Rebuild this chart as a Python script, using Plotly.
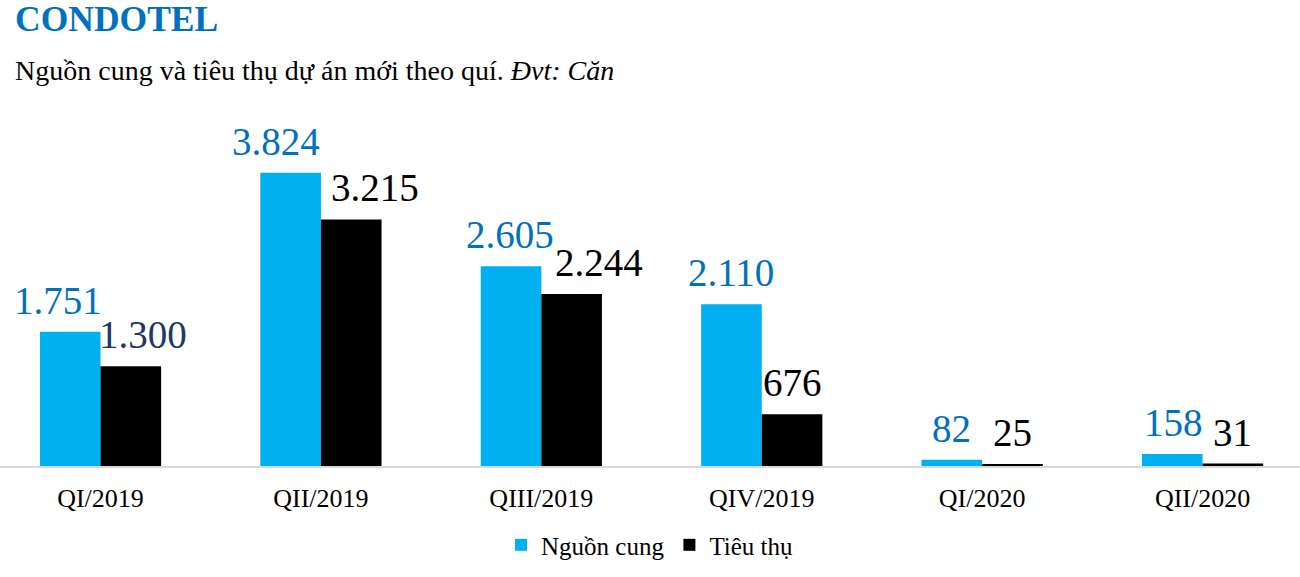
import plotly.graph_objects as go

quarters = ["QI/2019", "QII/2019", "QIII/2019", "QIV/2019", "QI/2020", "QII/2020"]
supply = [1751, 3824, 2605, 2110, 82, 158]
sold = [1300, 3215, 2244, 676, 25, 31]
supply_labels = ["1.751", "3.824", "2.605", "2.110", "82", "158"]
sold_labels = ["1.300", "3.215", "2.244", "676", "25", "31"]

FONT = "Liberation Serif"
CYAN = "#00B0F0"
BLUE = "#0070C0"

# label nudges (px) where Excel pushed overlapping labels apart
supply_nudge = [-12, -15, -1, 0, 0, 1]
sold_nudge = [12, 24, 27, 0, 0, 0]
sold_colors = ["#1F3864", "black", "black", "black", "black", "black"]

fig = go.Figure()
fig.add_bar(x=quarters, y=supply, name="Nguồn cung", marker_color=CYAN, marker_line_width=0)
fig.add_bar(x=quarters, y=sold, name="Tiêu thụ", marker_color="black", marker_line_width=0)

bar_off = 30.3
for i, q in enumerate(quarters):
    fig.add_annotation(x=q, y=supply[i], text=supply_labels[i], showarrow=False,
                       xshift=-bar_off + supply_nudge[i], yshift=8, yanchor="bottom",
                       font=dict(family=FONT, size=39, color=BLUE))
    fig.add_annotation(x=q, y=sold[i], text=sold_labels[i], showarrow=False,
                       xshift=bar_off + sold_nudge[i], yshift=8, yanchor="bottom",
                       font=dict(family=FONT, size=39, color=sold_colors[i]))

fig.add_annotation(xref="paper", yref="paper", x=13 / 1300, y=1.22, xanchor="left", yanchor="middle",
                   text="<b>CONDOTEL</b>", showarrow=False,
                   font=dict(family=FONT, size=35.5, color=BLUE))
fig.add_annotation(xref="paper", yref="paper", x=13 / 1300, y=1.08, xanchor="left", yanchor="middle",
                   text="Nguồn cung và tiêu thụ dự án mới theo quí. <i>Đvt: Căn</i>", showarrow=False,
                   font=dict(family=FONT, size=28, color="black"))

fig.update_layout(
    width=1300, height=577,
    margin=dict(l=0, r=0, t=100, b=111),
    paper_bgcolor="white", plot_bgcolor="white",
    barmode="group", bargap=0.45, bargroupgap=0,
    showlegend=True,
    legend=dict(orientation="h", x=0.5, xanchor="center", y=-0.216, yanchor="middle",
                font=dict(family=FONT, size=25, color="black")),
    font=dict(family=FONT),
)
fig.update_xaxes(type="category", range=[-0.456, 5.442], showline=True, linecolor="#D9D9D9",
                 linewidth=1.5, ticks="", showgrid=False, ticklabelstandoff=8,
                 tickfont=dict(family=FONT, size=26, color="black"))
fig.update_yaxes(visible=False, range=[0, 4772], showgrid=False)

fig.write_html("out.html", config={"displayModeBar": False},
               post_script="document.body.style.margin='0';")
